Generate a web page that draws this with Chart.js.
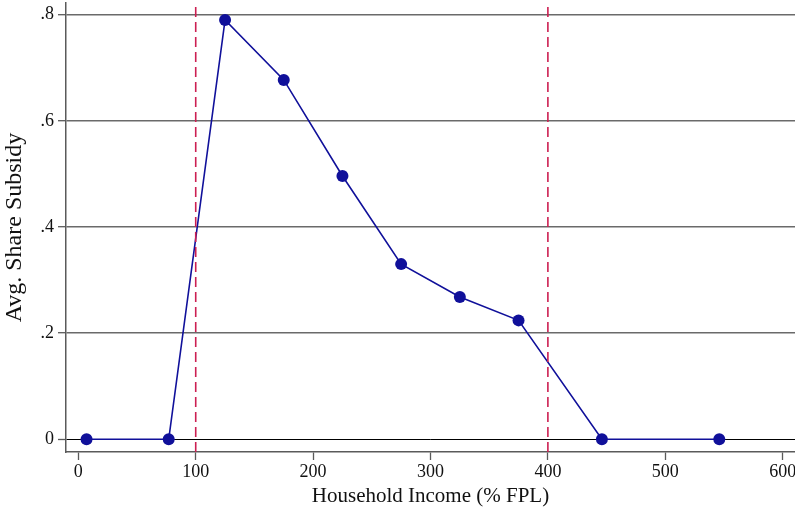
<!DOCTYPE html>
<html>
<head>
<meta charset="utf-8">
<script src="https://cdn.jsdelivr.net/npm/chart.js@4.4.1/dist/chart.umd.min.js"></script>
<style>
  html, body { margin: 0; padding: 0; background: #fff; }
  canvas { display: block; }
</style>
</head>
<body>
<canvas id="subsidyChart" width="795" height="512"></canvas>
<script>
// income bin midpoints (% FPL) and average subsidy share
const incomePct = [7, 77, 125, 175, 225, 275, 325, 375, 446, 546];
const avgShare = [0, 0, 0.790, 0.677, 0.496, 0.330, 0.268, 0.224, 0, 0];

// eligibility cutoffs
const cutoffs = [100, 400];

const xTicks = [0, 100, 200, 300, 400, 500, 600];
const yTicks = [0, 0.2, 0.4, 0.6, 0.8];
const yTickLabels = ['0', '.2', '.4', '.6', '.8'];

const xMin = -10.5, xMax = 610.5;
const yMin = -0.024, yMax = 0.822;

const serif = "'Liberation Serif', 'Times New Roman', serif";

const cutoffSets = cutoffs.map(c => ({
  type: 'line',
  data: [{ x: c, y: yMin }, { x: c, y: yMax }],
  borderColor: '#cc1f52',
  borderWidth: 1.6,
  borderDash: [10, 5],
  pointRadius: 0,
  fill: false
}));

const ctx = document.getElementById('subsidyChart').getContext('2d');
new Chart(ctx, {
  type: 'line',
  data: {
    datasets: [
      ...cutoffSets,
      {
        data: incomePct.map((x, i) => ({ x, y: avgShare[i] })),
        borderColor: '#10109a',
        backgroundColor: '#10109a',
        borderWidth: 1.6,
        pointRadius: 6,
        pointBorderWidth: 0,
        tension: 0,
        fill: false
      }
    ]
  },
  options: {
    responsive: false,
    animation: false,
    layout: { autoPadding: false, padding: { top: 3, right: 0, left: 0, bottom: 0 } },
    plugins: { legend: { display: false }, tooltip: { enabled: false } },
    scales: {
      x: {
        type: 'linear',
        min: xMin,
        max: xMax,
        afterBuildTicks: s => { s.ticks = xTicks.map(v => ({ value: v })); },
        afterFit: s => { s.height = 60; s.paddingLeft = 0; s.paddingRight = 0; },
        border: { display: true, color: '#5a5a5a', width: 1.5 },
        grid: { drawOnChartArea: false, tickLength: 8, tickColor: '#5a5a5a', tickWidth: 1.3 },
        ticks: { color: '#111', font: { family: serif, size: 18 }, padding: 1, maxRotation: 0 },
        title: {
          display: true,
          text: 'Household Income (% FPL)',
          color: '#111',
          font: { family: serif, size: 21 },
          padding: { top: 0, bottom: 3 }
        }
      },
      y: {
        min: yMin,
        max: yMax,
        afterBuildTicks: s => { s.ticks = yTicks.map(v => ({ value: v })); },
        afterFit: s => { s.width = 66; s.paddingTop = 0; s.paddingBottom = 0; },
        border: { display: true, color: '#5a5a5a', width: 1.5 },
        grid: {
          tickLength: 8,
          color: c => (c.tick && c.tick.value === 0 ? '#000' : '#6a6a6a'),
          lineWidth: c => (c.tick && c.tick.value === 0 ? 1 : 1.4),
          tickColor: '#5a5a5a',
          tickWidth: 1.3
        },
        ticks: {
          color: '#111',
          font: { family: serif, size: 18 },
          padding: 4,
          callback: (v) => {
            const i = yTicks.indexOf(v);
            return i >= 0 ? yTickLabels[i] : '';
          }
        },
        title: {
          display: true,
          text: 'Avg. Share Subsidy',
          color: '#111',
          font: { family: serif, size: 24 },
          padding: { top: 0, bottom: 0 }
        }
      }
    }
  }
});
</script>
</body>
</html>
